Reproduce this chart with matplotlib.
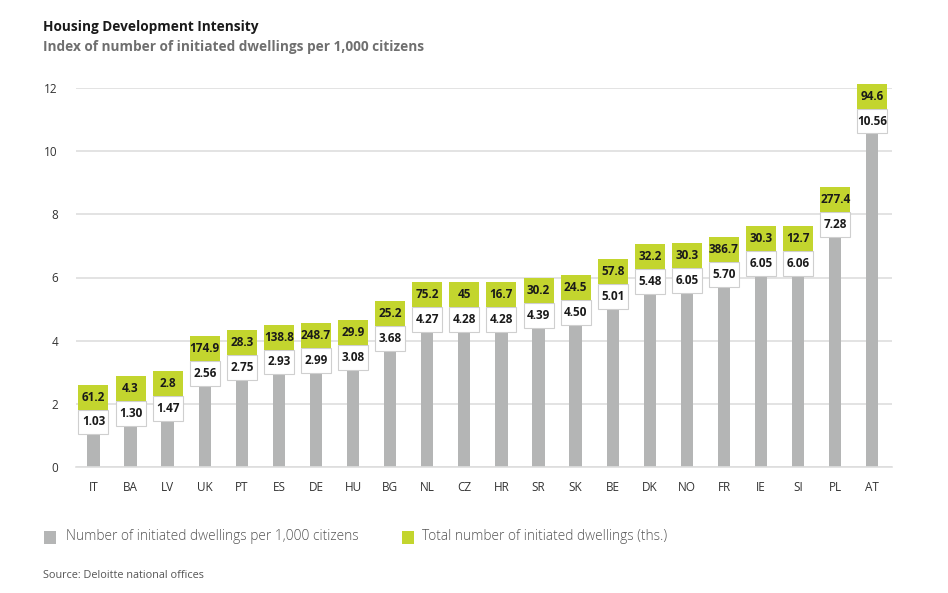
import matplotlib.pyplot as plt
from matplotlib.patches import Rectangle

plt.rcParams['font.family'] = ['Open Sans', 'DejaVu Sans']

# data
countries = ['IT', 'BA', 'LV', 'UK', 'PT', 'ES', 'DE', 'HU', 'BG', 'NL', 'CZ',
             'HR', 'SR', 'SK', 'BE', 'DK', 'NO', 'FR', 'IE', 'SI', 'PL', 'AT']
# bar heights as drawn (NO is drawn lower than its label)
per_1000 = [1.03, 1.30, 1.47, 2.56, 2.75, 2.93, 2.99, 3.08, 3.68, 4.27, 4.28,
            4.28, 4.39, 4.50, 5.01, 5.48, 5.50, 5.70, 6.05, 6.06, 7.28, 10.56]
per_1000_labels = ['1.03', '1.30', '1.47', '2.56', '2.75', '2.93', '2.99', '3.08',
                   '3.68', '4.27', '4.28', '4.28', '4.39', '4.50', '5.01', '5.48',
                   '6.05', '5.70', '6.05', '6.06', '7.28', '10.56']
total_ths = ['61.2', '4.3', '2.8', '174.9', '28.3', '138.8', '248.7', '29.9', '25.2',
             '75.2', '45', '16.7', '30.2', '24.5', '57.8', '32.2', '30.3', '386.7',
             '30.3', '12.7', '277.4', '94.6']

grey = '#b4b5b5'
green = '#c3d52e'

fig = plt.figure(figsize=(9.48, 5.93), dpi=100)
ax = fig.add_axes([76 / 948, 1 - 467 / 593, 816 / 948, 379 / 593])

x = range(len(countries))
ax.bar(x, per_1000, width=0.33, color=grey, zorder=2)

box_w = 0.81
box_h = 0.79
for i in x:
    top = per_1000[i]
    ax.add_patch(Rectangle((i - box_w / 2, top), box_w, box_h, facecolor='white',
                           edgecolor='#cfcfcf', linewidth=0.8, zorder=3, clip_on=False))
    ax.add_patch(Rectangle((i - box_w / 2, top + box_h), box_w, box_h, facecolor=green,
                           edgecolor='none', zorder=3, clip_on=False))
    ax.text(i, top + box_h / 2, per_1000_labels[i], ha='center', va='center',
            fontsize=8.5, fontweight='bold', color='#1a1a1a', zorder=4)
    ax.text(i, top + box_h * 1.5, total_ths[i], ha='center', va='center',
            fontsize=8.5, fontweight='bold', color='#1a1a1a', zorder=4)

ax.set_xlim(-0.47, 21.53)
ax.set_ylim(0, 12)
ax.set_yticks(range(0, 13, 2))
ax.set_xticks(list(x))
ax.set_xticklabels(countries)
ax.yaxis.grid(True, color='#dedede', linewidth=1.2, zorder=0)
ax.set_axisbelow(True)
for s in ['top', 'right', 'left']:
    ax.spines[s].set_visible(False)
ax.spines['bottom'].set_color('#dedede')
ax.spines['bottom'].set_linewidth(1.2)
ax.tick_params(axis='both', length=0, labelsize=8.5, colors='#333333')
ax.tick_params(axis='y', pad=13)
ax.tick_params(axis='x', pad=10)

fig.text(43 / 948, 1 - 27 / 593, 'Housing Development Intensity', fontsize=9.8,
         fontweight='bold', color='#1a1a1a', va='center')
fig.text(43 / 948, 1 - 47 / 593, 'Index of number of initiated dwellings per 1,000 citizens',
         fontsize=9.8, fontweight='bold', color='#6f6f6f', va='center')

# legend
fig.patches.append(Rectangle((44 / 948, 1 - 544 / 593), 12 / 948, 13 / 593,
                             facecolor=grey, transform=fig.transFigure, figure=fig))
fig.text(66 / 948, 1 - 537 / 593, 'Number of initiated dwellings per 1,000 citizens',
         fontsize=9.9, color='#555555', va='center', fontweight='light')
fig.patches.append(Rectangle((402 / 948, 1 - 544 / 593), 12 / 948, 13 / 593,
                             facecolor=green, transform=fig.transFigure, figure=fig))
fig.text(422 / 948, 1 - 537 / 593, 'Total number of initiated dwellings (ths.)',
         fontsize=9.9, color='#555555', va='center', fontweight='light')

fig.text(43 / 948, 1 - 576 / 593, 'Source: Deloitte national offices', fontsize=7.8,
         color='#555555', va='center')

fig.savefig('out.png', dpi=100)
